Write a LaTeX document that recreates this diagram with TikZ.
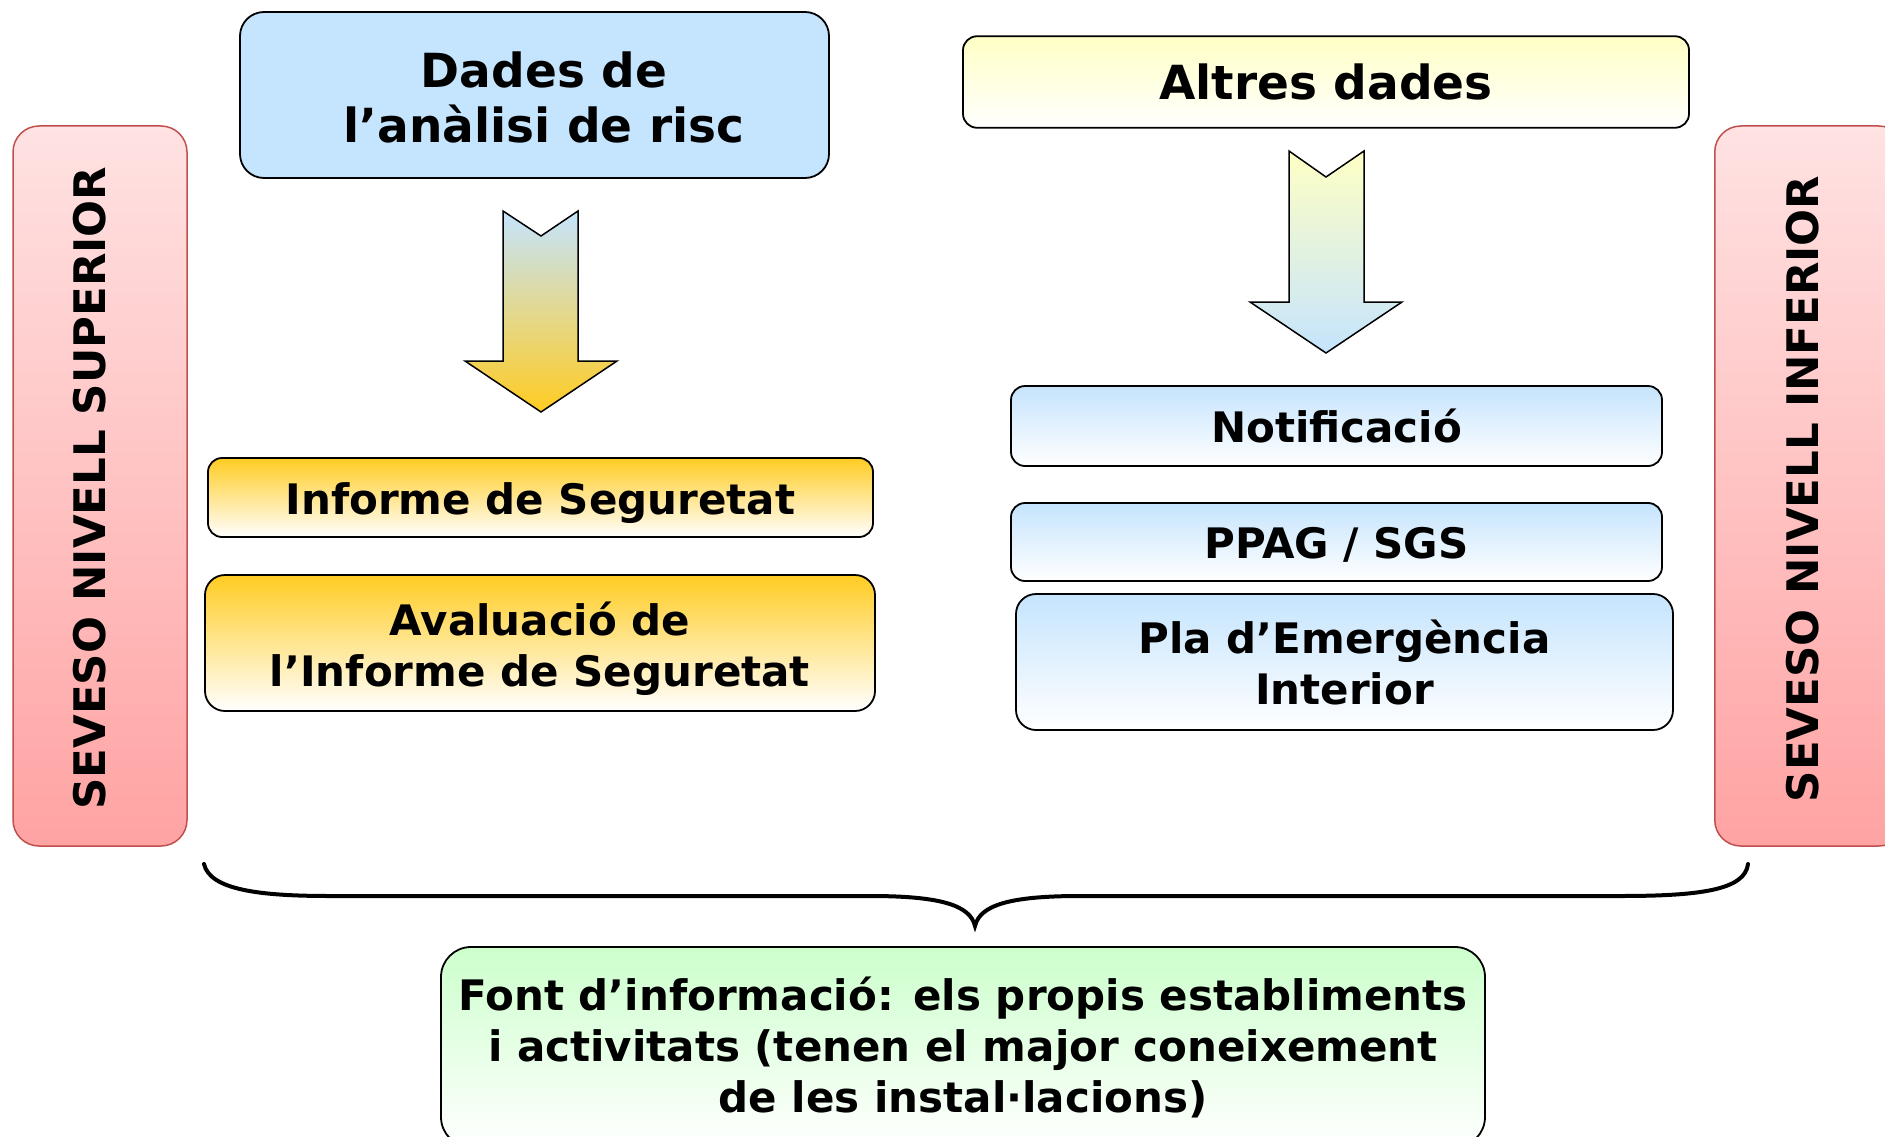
\documentclass[tikz,border=0pt]{standalone}
\usepackage{fontspec}
\setmainfont{DejaVu Sans}
\definecolor{lblue}{HTML}{C5E4FD}
\definecolor{gold}{HTML}{FFCC22}
\definecolor{lyellow}{HTML}{FFFFC5}
\definecolor{pinktop}{HTML}{FFE2E2}
\definecolor{pinkbot}{HTML}{FFA3A3}
\definecolor{redline}{HTML}{C0504D}
\definecolor{lgreen}{HTML}{CCFFCC}
\tikzset{
  box/.style={draw=black, line width=1.8pt, rounded corners=14pt, align=center, inner sep=0pt,
    font=\bfseries\fontsize{42}{51}\selectfont},
  boxtext/.style={align=center, inner sep=0pt, font=\bfseries\fontsize{42}{51}\selectfont},
  bigbox/.style={box, rounded corners=24pt, font=\bfseries\fontsize{47}{55}\selectfont},
  bluegrad/.style={top color=lblue, bottom color=white},
  goldgrad/.style={top color=gold, bottom color=white},
  sidebox/.style={draw=redline, line width=1.5pt, rounded corners=26pt, top color=pinktop, bottom color=pinkbot},
  sidetext/.style={rotate=90, font=\bfseries\fontsize{43.5}{50}\selectfont},
  blockarrow/.style={draw=black, line width=1.5pt, line join=miter},
  brace/.style={draw=black, line width=4pt, line cap=round}
}
\begin{document}
\begin{tikzpicture}[x=1pt,y=-1pt]
\useasboundingbox (0,0) rectangle (1885,1137);
% side boxes
\node[sidebox, minimum width=174pt, minimum height=720pt] (redL) at (100,486) {};
\node[sidetext] (txtL) at (90,488) {SEVESO NIVELL SUPERIOR};
\node[sidebox, minimum width=190pt, minimum height=720pt, anchor=west] (redR) at (1714,486) {};
\node[sidetext] (txtR) at (1803,489) {SEVESO NIVELL INFERIOR};
% top boxes
\node[bigbox, fill=lblue, minimum width=589pt, minimum height=166pt] (dades) at (534.5,95) {};
\node[boxtext, font=\bfseries\fontsize{47}{55}\selectfont] (dadesT) at (544,97) {Dades de\\l’anàlisi de risc};
\node[bigbox, rounded corners=14pt, top color=lyellow, bottom color=white, minimum width=726pt, minimum height=91.5pt] (altres) at (1326,82) {Altres dades};
% left column
\node[box, goldgrad, minimum width=665pt, minimum height=79pt] (informe) at (540.5,497.5) {};
\node[boxtext] (informeT) at (540.5,503) {Informe de Seguretat};
\node[box, goldgrad, rounded corners=20pt, minimum width=670pt, minimum height=136pt] (aval) at (540,643) {};
\node[boxtext] (avalT) at (540,649) {Avaluació de\\l’Informe de Seguretat};
% right column
\node[box, bluegrad, minimum width=651pt, minimum height=80pt] (notif) at (1336.5,426) {Notificació};
\node[box, bluegrad, minimum width=651pt, minimum height=78pt] (ppag) at (1336.5,542) {};
\node[boxtext] (ppagT) at (1336.5,545) {PPAG / SGS};
\node[box, bluegrad, rounded corners=20pt, minimum width=657pt, minimum height=136pt] (pla) at (1344.5,662) {Pla d’Emergència\\Interior};
% bottom box
\node[box, rounded corners=30pt, top color=lgreen, bottom color=white, minimum width=1044pt, minimum height=200pt] (font) at (963,1047) {Font d’informació: els propis establiments\\i activitats (tenen el major coneixement\\de les instal·lacions)};
% block arrows
\path[blockarrow, top color=lblue, bottom color=gold]
  (503,211) -- (541,236) -- (578,211) -- (578,361) -- (617,361) -- (541,412) -- (465,361) -- (503,361) -- cycle;
\path[blockarrow, top color=lyellow, bottom color=lblue]
  (1289,151) -- (1326,177) -- (1364,151) -- (1364,302) -- (1402,302) -- (1326,353) -- (1250,302) -- (1289,302) -- cycle;
% brace
\coordinate (bl) at (204,864);
\coordinate (bm) at (975,926);
\coordinate (br) at (1748,864);
\draw[brace] (bl) .. controls (210,890) and (260,896) .. (330,896) -- (870,896)
  .. controls (940,896) and (970,905) .. (bm)
  .. controls (980,905) and (1010,896) .. (1080,896) -- (1620,896)
  .. controls (1700,896) and (1745,890) .. (br);
\end{tikzpicture}
\end{document}
